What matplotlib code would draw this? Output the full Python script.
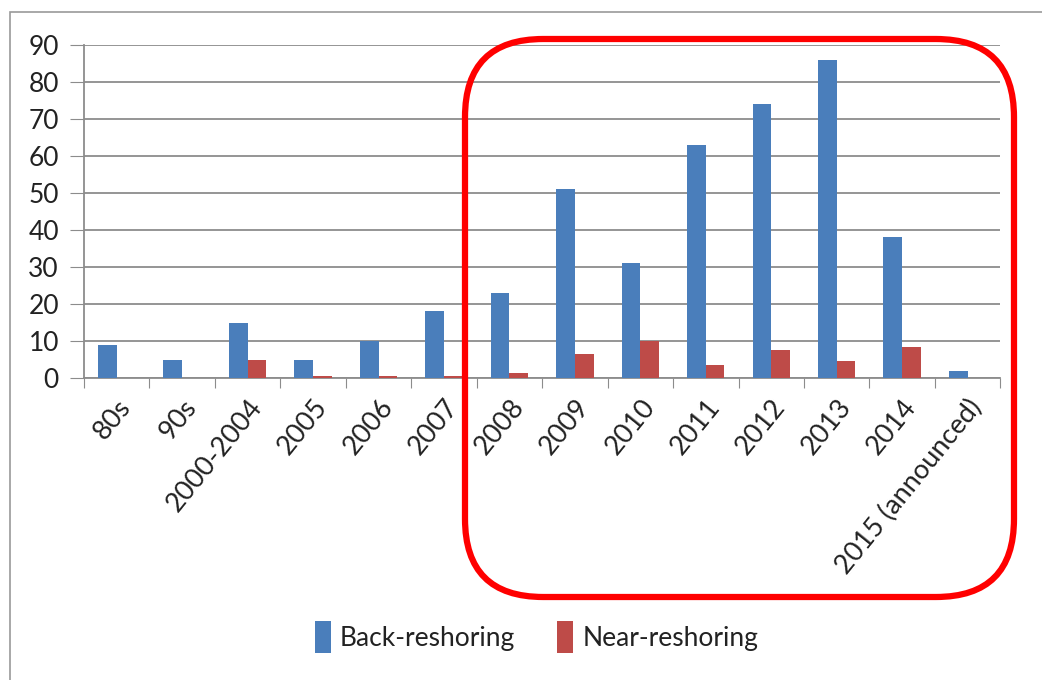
import numpy as np
import matplotlib.pyplot as plt
from matplotlib.patches import FancyBboxPatch, Rectangle

plt.rcParams['font.family'] = ['Lato', 'DejaVu Sans']

categories = ["80s", "90s", "2000-2004", "2005", "2006", "2007", "2008",
              "2009", "2010", "2011", "2012", "2013", "2014", "2015 (announced)"]
back = [9, 5, 15, 5, 10, 18, 23, 51, 31, 63, 74, 86, 38, 2]
near = [0, 0, 5, 0.5, 0.5, 0.5, 1.5, 6.5, 10, 3.5, 7.6, 4.6, 8.4, 0]

blue = "#4a7ebb"
red = "#be4b48"
grey = "#8c8c8c"

fig = plt.figure(figsize=(10.42, 6.8), dpi=100)
ax = fig.add_axes([0.0806, 0.444, 0.8794, 0.490])

x = np.arange(len(categories))
w = 1 / 3.5
ax.bar(x - w / 2, back, w, color=blue, label="Back-reshoring", zorder=3)
ax.bar(x + w / 2, near, w, color=red, label="Near-reshoring", zorder=3)

ax.set_xlim(-0.5, len(categories) - 0.5)
ax.set_ylim(0, 90)
ax.set_yticks(range(0, 91, 10))
ax.tick_params(axis='y', labelsize=19, length=10, color=grey, pad=8,
               labelcolor="#222222")
ax.yaxis.grid(True, color=grey, linewidth=1.3, zorder=0)
for s in ["top", "right"]:
    ax.spines[s].set_visible(False)
for s in ["left", "bottom"]:
    ax.spines[s].set_color(grey)
    ax.spines[s].set_linewidth(1.3)

# ticks sit on category boundaries, labels centred under each group
ax.set_xticks(np.arange(-0.5, len(categories), 1.0))
ax.set_xticklabels([])
ax.tick_params(axis='x', length=7, color=grey)
ax.set_xticks(x, minor=True)
ax.set_xticklabels(categories, minor=True, rotation=51, ha="right",
                   rotation_mode="anchor", fontsize=19.5, color="#222222")
ax.tick_params(axis='x', which='minor', length=0, pad=12)

fig.legend(loc="center", bbox_to_anchor=(0.515, 0.063), ncol=2, frameon=False,
           fontsize=19, handlelength=0.6, handleheight=1.5, columnspacing=1.6,
           handletextpad=0.35, labelcolor="#222222")

# outer chart border
fig.add_artist(Rectangle((10 / 1042, -0.01), 1.1, 1 - 12 / 680 + 0.01,
                         transform=fig.transFigure, fill=False,
                         edgecolor="#9a9a9a", linewidth=1.2))

# highlight box around 2008 onwards
fig.add_artist(FancyBboxPatch((465 / 1042, 1 - 597 / 680),
                              (1014 - 465) / 1042, (597 - 39) / 680,
                              boxstyle="round,pad=0,rounding_size=0.075",
                              transform=fig.transFigure, fill=False,
                              edgecolor="#ff0000", linewidth=4.5,
                              mutation_aspect=1042 / 680, zorder=10))

fig.savefig("out.png", dpi=100)
